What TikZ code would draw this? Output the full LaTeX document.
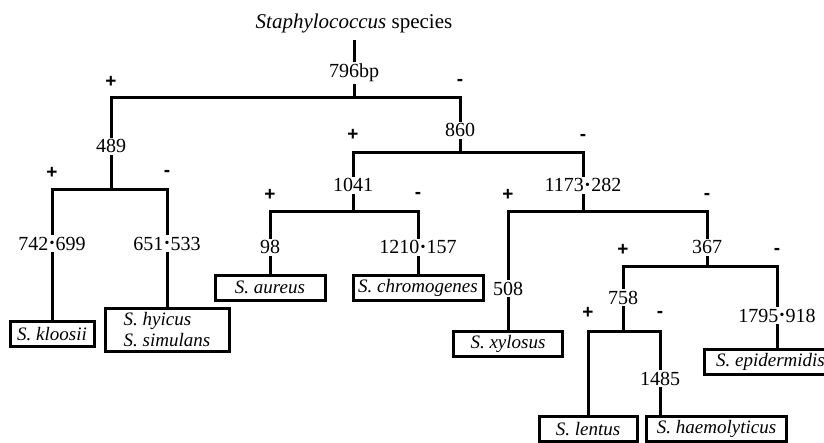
\documentclass[tikz,border=0pt]{standalone}
\usepackage{fontspec}
\setmainfont{Liberation Serif}
\setsansfont{Liberation Sans}
\usetikzlibrary{backgrounds}
\tikzstyle{title} = [anchor=south, inner sep=0pt, outer sep=3.5pt,
font=\fontsize{10.5}{12}\selectfont]
\tikzstyle{size} = [anchor=base, fill=white, inner sep=1pt,
font=\fontsize{10}{11}\selectfont]
\tikzstyle{sign} = [inner sep=0pt, font=\fontsize{9.5}{10}\selectfont\sffamily\bfseries]
\tikzstyle{leaf} = [rectangle, draw, line width=1.5pt, inner sep=0pt,
minimum height=12.5pt, font=\fontsize{9.5}{10.5}\selectfont\itshape]
\tikzstyle{branch} = [draw, line width=1.5pt]
\newcommand{\bdot}{\kern0.6pt\raisebox{0.25ex}{\scriptsize\textbullet}\kern0.6pt}

\begin{document}
\begin{tikzpicture}[x=0.5pt, y=-0.5pt]
    \useasboundingbox (0,0) rectangle (824,443);
    % Place nodes
    \node [title] (title) at (354,40) {\textit{Staphylococcus} species};
    \coordinate (j796) at (354,98);
    \coordinate (j489) at (111,190);
    \coordinate (j860) at (460,153);
    \coordinate (j1041) at (353,212);
    \coordinate (j1173) at (583,212);
    \coordinate (j367) at (707,267);
    \coordinate (j758) at (623,331);

    % Band sizes
    \node [size] (l796) at (354,78) {796bp};
    \node [size] (l489) at (111,153) {489};
    \node [size] (l742) at (52,250) {742\bdot699};
    \node [size] (l651) at (167,250) {651\bdot533};
    \node [size] (l860) at (460,137) {860};
    \node [size] (l1041) at (353,192) {1041};
    \node [size] (l98) at (270,254) {98};
    \node [size] (l1210) at (418,254) {1210\bdot157};
    \node [size] (l1173) at (583,192) {1173\bdot282};
    \node [size] (l508) at (508,295) {508};
    \node [size] (l367) at (707,254) {367};
    \node [size] (l758) at (623,304) {758};
    \node [size] (l1485) at (660,385) {1485};
    \node [size] (l1795) at (777,322) {1795\bdot918};

    % Species
    \node [leaf, minimum width=42pt] (kloosii) at (52,334) {S. kloosii};
    \node [leaf, minimum width=62pt, minimum height=21.5pt, align=left]
    (hyicus) at (167,330) {S. hyicus\\S. simulans};
    \node [leaf, minimum width=55pt] (aureus) at (270,287.5) {S. aureus};
    \node [leaf, minimum width=65pt] (chromo) at (418,287.5)
    {S. chromogenes};
    \node [leaf, minimum width=54.5pt] (xylosus) at (508,343.5) {S. xylosus};
    \node [leaf, minimum width=66pt, anchor=west] (epider) at (703,362)
    {S. epidermidis};
    \node [leaf, minimum width=49pt] (lentus) at (588,429) {S. lentus};
    \node [leaf, minimum width=70pt] (haemo) at (716.5,429)
    {S. haemolyticus};

    % Signs
    \foreach \name/\x/\y/\s in {p796/111/82/+, m796/460/82/-,
      p489/52/173/+, m489/167/173/-, p860/353/135/+, m860/583/137/-,
      p1041/270/195/+, m1041/418/195/-, p1173/508/195/+, m1173/707/196/-,
      p367/623/250/+, m367/777/251/-, p758/588/313/+, m758/660/314/-}
      \node [sign] (\name) at (\x,\y) {\s};

    % Draw edges
    \begin{scope}[on background layer]
    \path [branch] (title) -- (j796);
    \path [branch] (j489) |- (j796) -| (j860);
    \path [branch] (kloosii) |- (j489) -| (hyicus);
    \path [branch] (j1041) |- (j860) -| (j1173);
    \path [branch] (aureus) |- (j1041) -| (chromo);
    \path [branch] (xylosus) |- (j1173) -| (j367);
    \path [branch] (j758) |- (j367) -| (epider.north -| l1795);
    \path [branch] (lentus) |- (j758) -| (haemo.north -| l1485);
    \end{scope}
\end{tikzpicture}
\end{document}
